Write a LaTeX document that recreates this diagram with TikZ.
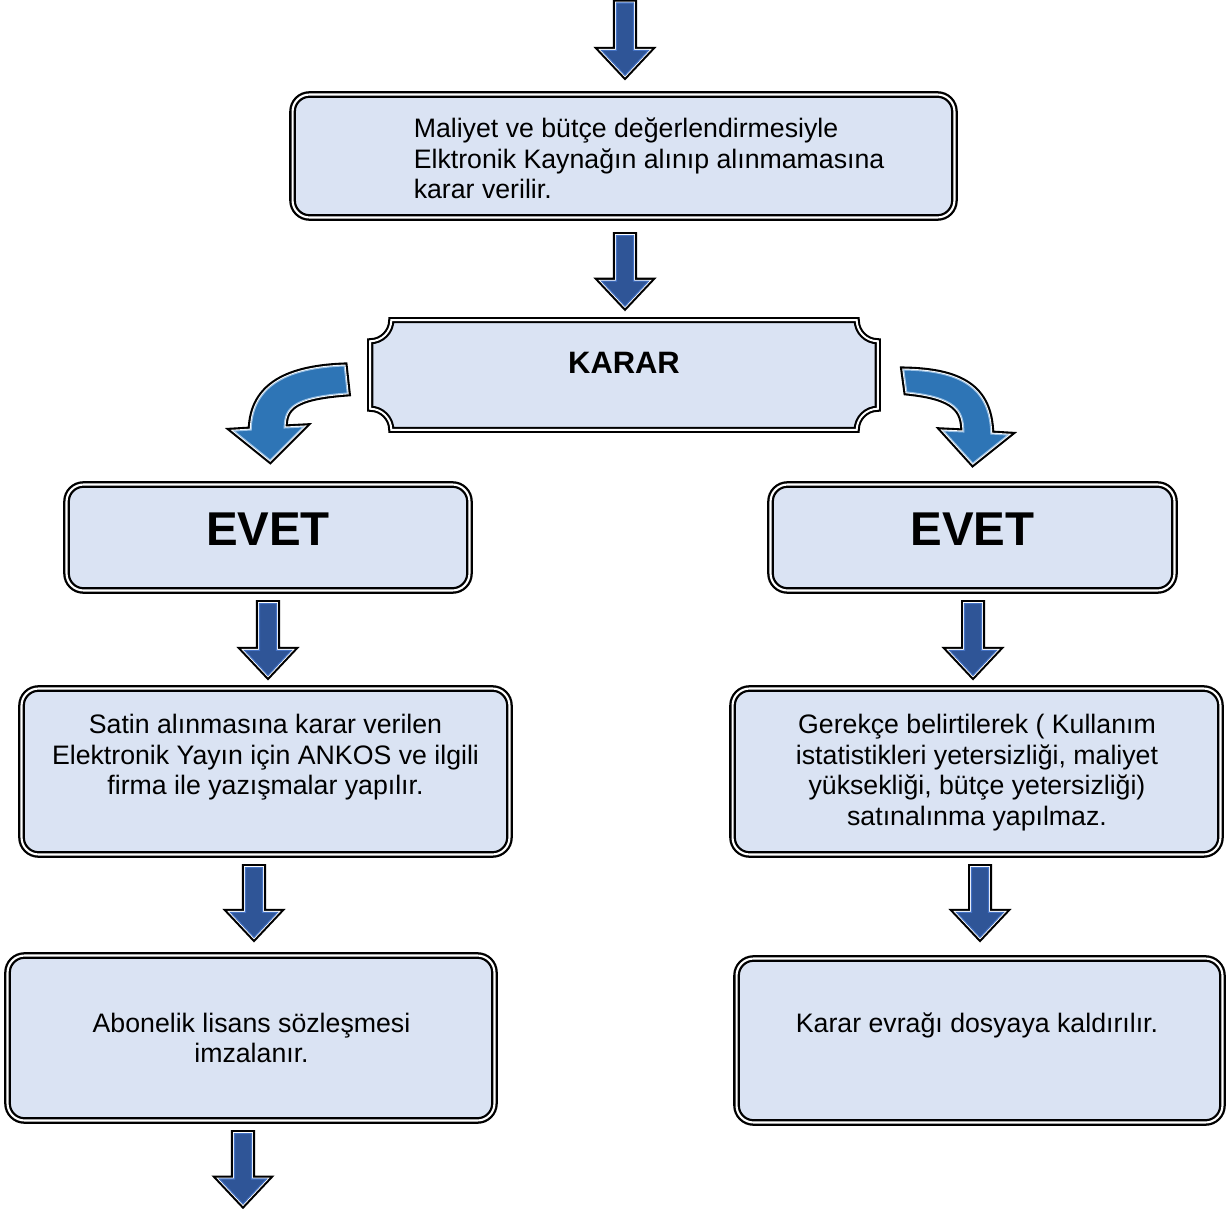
\documentclass[tikz,border=0pt]{standalone}
\usepackage{fontspec}
\setmainfont{Liberation Sans}
\usetikzlibrary{calc}

\definecolor{boxblue}{HTML}{DAE3F3}
\definecolor{arrdark}{HTML}{2F5597}
\definecolor{arredge}{HTML}{4472C4}
\definecolor{arrmid}{HTML}{2E75B6}
\definecolor{arrlite}{HTML}{9DC3E6}

% straight block arrow, #1 = start, #2 = tip
\newcommand{\blkdown}[2]{%
  \path[blkarrow] let \p1=(#1), \p2=(#2) in
    (\x1-0.17cm,\y1) -- (\x1-0.17cm,\y2+0.5cm) -- (\x1-0.47cm,\y2+0.5cm)
    -- (\x1,\y2) -- (\x1+0.47cm,\y2+0.5cm) -- (\x1+0.17cm,\y2+0.5cm)
    -- (\x1+0.17cm,\y1) -- cycle;}

\begin{document}
\begin{tikzpicture}[x=0.02cm, y=-0.02cm,
    flowbox/.style={draw=black, double=white, line width=1.3pt, double distance=1.2pt, fill=boxblue, rounded corners=0.34cm, inner sep=0pt},
    plaque/.style={draw=black, double=white, line width=1.2pt, double distance=1.1pt, fill=boxblue},
    blkarrow/.style={preaction={draw=black, line width=4pt}, preaction={draw=white, line width=1.6pt}, fill=arrdark, draw=arredge, line width=0.6pt},
    bentarrow/.style={preaction={draw=black, line width=4pt}, preaction={draw=white, line width=1.6pt}, fill=arrmid, draw=arrlite, line width=0.6pt},
    bodytxt/.style={font=\fontsize{15.2}{17.4}\selectfont, align=center, inner sep=0pt},
    bigtxt/.style={font=\fontsize{27}{30}\selectfont\bfseries, inner sep=0pt},
    midtxt/.style={font=\fontsize{17.6}{20}\selectfont\bfseries, inner sep=0pt}
]
\useasboundingbox (0,0) rectangle (1227,1209);

% boxes
\node[flowbox, minimum width=13.24cm, minimum height=2.46cm] (cost) at (623.5,156) {};
\node[draw=none, minimum width=10.14cm, minimum height=2.18cm] (karar) at (624,375) {};
\node[flowbox, minimum width=8.06cm, minimum height=2.12cm] (evl) at (268,537.5) {};
\node[flowbox, minimum width=8.08cm, minimum height=2.12cm] (evr) at (972.5,537.5) {};
\node[flowbox, minimum width=9.76cm, minimum height=3.32cm] (satl) at (265.5,771.5) {};
\node[flowbox, minimum width=9.76cm, minimum height=3.32cm] (grk) at (976.5,771.5) {};
\node[flowbox, minimum width=9.74cm, minimum height=3.30cm] (abon) at (251,1038) {};
\node[flowbox, minimum width=9.72cm, minimum height=3.28cm] (krr) at (979.5,1040.5) {};

% karar plaque with hollow corners
\path[plaque] let \p1=(karar.north west), \p2=(karar.south east) in
  (\x1+12pt,\y1) -- (\x2-12pt,\y1)
  .. controls (\x2-12pt,\y1-6.6pt) and (\x2-6.6pt,\y1-12pt) .. (\x2,\y1-12pt)
  -- (\x2,\y2+12pt)
  .. controls (\x2-6.6pt,\y2+12pt) and (\x2-12pt,\y2+6.6pt) .. (\x2-12pt,\y2)
  -- (\x1+12pt,\y2)
  .. controls (\x1+12pt,\y2+6.6pt) and (\x1+6.6pt,\y2+12pt) .. (\x1,\y2+12pt)
  -- (\x1,\y1-12pt)
  .. controls (\x1+6.6pt,\y1-12pt) and (\x1+12pt,\y1-6.6pt) .. (\x1+12pt,\y1) -- cycle;

% texts
\node[bodytxt, align=left, anchor=west] (costtxt) at ($(cost.west)+(122,2.5)$)
  {Maliyet ve bütçe değerlendirmesiyle\\Elktronik Kaynağın alınıp alınmamasına\\karar verilir.};
\node[midtxt] (karartxt) at ($(karar)+(0,-12)$) {KARAR};
\node[bigtxt] (evltxt) at ($(evl)+(0,-8)$) {EVET};
\node[bigtxt] (evrtxt) at ($(evr)+(0,-8)$) {EVET};
\node[bodytxt] (satltxt) at ($(satl)+(0,-14)$)
  {Satin alınmasına karar verilen\\Elektronik Yayın için ANKOS ve ilgili\\firma ile yazışmalar yapılır.};
\node[bodytxt] (grktxt) at ($(grk)+(0.5,1)$)
  {Gerekçe belirtilerek ( Kullanım\\istatistikleri yetersizliği, maliyet\\yüksekliği, bütçe yetersizliği)\\satınalınma yapılmaz.};
\node[bodytxt] (abontxt) at ($(abon)+(0.5,0)$) {Abonelik lisans sözleşmesi\\imzalanır.};
\node[bodytxt] (krrtxt) at ($(krr)+(-2.5,-15)$) {Karar evrağı dosyaya kaldırılır.};

% free ends
\coordinate (inflow) at (625,3);
\coordinate (outflow) at (243,1204);

% straight arrows
\blkdown{inflow}{$(cost.north)+(0,-18)$}
\blkdown{$(cost.south)+(1.5,17)$}{$(karar.north)+(1.5,-14)$}
\blkdown{$(evl.south)+(0,12)$}{$(satl.north)+(2.5,-12)$}
\blkdown{$(evr.south)+(0.5,12)$}{$(grk.north)+(-3.5,-12)$}
\blkdown{$(satl.south)+(-11.5,12)$}{$(abon.north)+(3,-17)$}
\blkdown{$(grk.south)+(3.5,12)$}{$(krr.north)+(0.5,-20)$}
\blkdown{$(abon.south)+(-8,12)$}{outflow}

% bent arrows
\begin{scope}[shift={(karar.west)}]
\path[bentarrow] (-26,-9) .. controls (-80,-7) and (-118,9) .. (-119,55)
  -- (-136,56) -- (-100,85) -- (-67,52) -- (-86,53)
  .. controls (-86,33) and (-78,22) .. (-23,18) -- cycle;
\end{scope}
\begin{scope}[shift={(karar.east)}]
\path[bentarrow] (26,-5) .. controls (82,-4) and (112,12) .. (113,59)
  -- (130,60) -- (95,88) -- (66,56) -- (86,57)
  .. controls (86,35) and (78,22) .. (29,17) -- cycle;
\end{scope}
\end{tikzpicture}
\end{document}
